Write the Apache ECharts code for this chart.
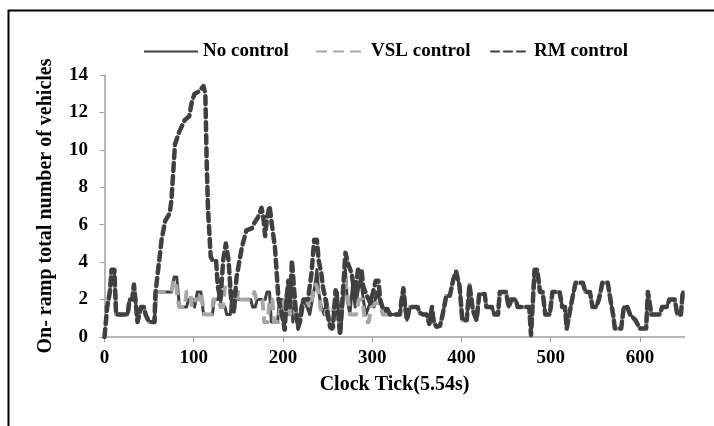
<!DOCTYPE html>
<html>
<head>
<meta charset="utf-8">
<script src="https://cdn.jsdelivr.net/npm/echarts@6/dist/echarts.min.js"></script>
<style>
  html, body { margin: 0; padding: 0; background: #fff; }
  #chart { width: 714px; height: 426px; }
</style>
</head>
<body>
<div id="chart"></div>
<script>
// [clock tick, vehicles]
const headPts = [
  [0, 1.6], [3, 1.6], [6, 2.4], [8, 3.6], [11, 3.6], [13, 1.2], [26, 1.2], [28, 2.0], [31, 2.0],
  [33, 2.8], [35, 2.8], [37, 0.8], [39, 0.8], [41, 1.6], [44, 1.6], [46, 1.2], [48, 1.2],
  [50, 0.8], [56, 0.8]
]

const noControlMid = [
  [58, 2.4], [75, 2.4], [78, 3.2], [81, 3.2], [84, 1.6], [92, 1.6], [94, 2.0], [99, 2.0],
  [101, 1.6], [104, 2.4], [108, 2.4], [111, 1.2], [121, 1.2], [123, 2.0], [127, 2.0], [129, 2.4],
  [131, 1.6], [135, 1.6], [137, 1.2], [141, 1.2], [143, 2.4], [148, 2.4], [150, 2.0], [164, 2.0],
  [166, 1.6], [169, 1.6], [171, 2.0], [180, 2.0], [182, 2.4], [185, 2.4], [187, 0.8], [194, 0.8],
  [196, 2.0], [199, 2.0], [201, 0.4], [204, 2.4], [206, 1.2], [209, 3.2], [211, 0.8], [214, 1.6],
  [217, 0.4], [220, 1.6], [223, 2.0], [227, 1.6], [230, 1.2], [233, 2.0], [236, 2.8], [238, 3.6],
  [240, 2.4], [243, 1.6], [246, 1.2], [249, 2.0], [252, 0.8], [255, 0.4], [258, 1.6], [261, 2.4],
  [263, 0.8], [265, 0.4], [268, 2.4], [270, 3.6], [272, 2.0], [275, 1.2], [278, 2.8], [281, 1.6],
  [284, 2.4], [287, 3.2], [290, 2.0], [293, 1.2], [296, 1.6], [299, 2.0], [302, 1.6], [305, 2.4],
  [308, 2.0], [312, 1.6], [316, 1.2]
]

const vslMid = [
  [58, 2.4], [75, 2.4], [77, 3.0], [80, 3.0], [82, 2.0], [84, 1.6], [90, 1.6], [92, 2.4], [96, 2.4],
  [98, 1.6], [100, 1.6], [102, 2.0], [106, 2.0], [108, 2.4], [110, 2.4], [112, 1.2], [120, 1.2],
  [122, 2.0], [128, 2.0], [130, 1.6], [133, 1.6], [135, 2.8], [140, 2.8], [142, 2.0], [148, 2.0],
  [150, 2.4], [153, 2.0], [165, 2.0], [168, 2.4], [170, 2.0], [177, 2.0], [179, 0.8], [183, 0.8],
  [185, 2.0], [188, 2.0], [190, 0.8], [195, 0.8], [197, 1.6], [200, 2.0], [203, 1.2], [206, 2.4],
  [208, 1.2], [211, 2.0], [214, 1.2], [218, 0.8], [222, 1.6], [226, 2.0], [230, 1.6], [234, 2.4],
  [237, 2.8], [240, 2.4], [243, 1.2], [247, 1.2], [250, 1.6], [253, 0.8], [257, 1.6], [260, 1.2],
  [263, 0.8], [266, 1.6], [269, 3.2], [272, 2.4], [275, 1.2], [282, 1.2], [285, 2.0], [289, 2.0],
  [292, 0.8], [296, 0.8], [299, 1.6], [303, 1.8], [308, 1.8], [312, 1.2]
]

const rmHead = [[0, 0]]

const rmMid = [
  [57, 2.3], [64, 5.2], [68, 6.2], [73, 6.6], [75, 7.3], [79, 10.3], [84, 11.0], [90, 11.6],
  [95, 11.8], [98, 12.6], [101, 13.0], [105, 13.1], [111, 13.4], [113, 13.0], [114.5, 9.4],
  [116, 6.8], [119, 4.3], [121, 4.1], [125, 4.1], [127, 2.7], [130, 2.0], [133, 4.1], [136, 5.0],
  [139, 4.1], [142, 2.0], [145, 1.3], [148, 3.2], [154, 4.8], [159, 5.7], [165, 5.8], [168, 6.1],
  [172, 6.4], [176, 6.9], [178, 6.4], [180, 5.4], [182, 6.3], [185, 7.0], [187, 6.2], [191, 4.8],
  [193, 3.4], [195, 2.0], [198, 1.4], [202, 0.4], [204, 2.0], [206, 3.0], [208, 1.6], [210, 4.1],
  [212, 4.1], [214, 1.6], [217, 0.5], [219, 0.8], [223, 2.0], [228, 2.0], [232, 3.4], [235, 5.2],
  [238, 5.2], [240, 4.1], [243, 3.4], [245, 2.6], [247, 2.2], [250, 1.2], [253, 0.5], [256, 0.5],
  [259, 2.5], [262, 1.2], [264, 0.1], [266, 0.2], [268, 3.0], [270, 4.5], [273, 3.9], [275, 4.0],
  [277, 3.4], [279, 2.7], [281, 2.2], [284, 3.6], [288, 3.6], [290, 2.7], [294, 2.2], [298, 1.8],
  [301, 2.4], [304, 3.0], [307, 3.0], [309, 2.0], [312, 1.5], [317, 1.5]
]

const tailPts = [
  [320, 1.2], [331, 1.2], [333, 2.0], [335, 2.6], [337, 1.6], [339, 0.9], [342, 1.6], [351, 1.6],
  [353, 1.3], [357, 1.2], [361, 1.2], [364, 0.7], [367, 1.6], [369, 0.8], [372, 0.55], [376, 0.6],
  [379, 1.2], [383, 2.2], [387, 2.2], [391, 3.1], [394, 3.5], [396, 3.4], [398, 2.7], [401, 0.9],
  [406, 0.9], [409, 2.8], [411, 2.8], [413, 1.4], [417, 0.9], [420, 2.3], [426, 2.3], [428, 1.6],
  [434, 1.6], [437, 1.2], [441, 1.2], [443, 2.4], [450, 2.4], [453, 1.6], [456, 2.0], [461, 2.0],
  [463, 1.6], [476, 1.6], [478, 0.1], [480, 0.1], [482, 3.6], [485, 3.6], [488, 2.4], [491, 2.4],
  [494, 1.2], [499, 1.2], [502, 2.4], [510, 2.4], [513, 1.6], [516, 1.6], [518, 0.45], [520, 0.45],
  [524, 2.0], [528, 2.9], [536, 2.9], [539, 2.4], [544, 2.4], [547, 1.6], [551, 1.6], [554, 2.0],
  [558, 2.9], [564, 2.9], [567, 2.0], [570, 1.2], [572, 0.45], [579, 0.45], [582, 1.6], [586, 1.6],
  [589, 1.2], [595, 0.9], [600, 0.45], [607, 0.45], [609, 2.4], [611, 2.4], [613, 1.2], [622, 1.2],
  [625, 1.6], [630, 1.6], [633, 2.0], [639, 2.0], [642, 1.2], [646, 1.2], [648, 2.4], [650, 2.4]
]

const xTicks = [0, 100, 200, 300, 400, 500, 600]
const seriesNames = ['No control', 'VSL control', 'RM control']

const noControl = headPts.concat(noControlMid, tailPts)
const vslControl = headPts.concat(vslMid, tailPts)
const rmControl = rmHead.concat(headPts.slice(1), rmMid, tailPts)

const FONT = '"Liberation Serif", "Times New Roman", serif'
const DARK = '#404040'
const LIGHT = '#a6a6a6'
const AXIS = '#a0a0a0'

const chart = echarts.init(document.getElementById('chart'))

function legendAt(name, left, width) {
  return {
    data: [name],
    left: left,
    top: 37,
    itemWidth: width,
    itemHeight: 20,
    itemStyle: { opacity: 0 },
    textStyle: { fontFamily: FONT, fontWeight: 'bold', fontSize: 19, color: '#000' }
  }
}

const option = {
  animation: false,
  backgroundColor: '#fff',
  legend: [
    legendAt(seriesNames[0], 138, 54),
    legendAt(seriesNames[1], 310, 50),
    legendAt(seriesNames[2], 485, 38)
  ],
  grid: { left: 104.5, right: 29.5, top: 75, bottom: 89 },
  xAxis: {
    type: 'value',
    min: 0,
    max: 650,
    name: 'Clock Tick(5.54s)',
    nameLocation: 'middle',
    nameGap: 38,
    nameTextStyle: { fontFamily: FONT, fontWeight: 'bold', fontSize: 20, color: '#000' },
    axisLine: { lineStyle: { color: AXIS, width: 1.5 } },
    axisTick: { show: true, length: 5, customValues: xTicks, lineStyle: { color: AXIS } },
    axisLabel: {
      customValues: xTicks,
      margin: 12,
      fontFamily: FONT, fontWeight: 'bold', fontSize: 19, color: '#000'
    },
    splitLine: { show: false }
  },
  yAxis: {
    type: 'value',
    min: 0,
    max: 14,
    interval: 2,
    offset: 4.5,
    name: 'On- ramp total number of vehicles',
    nameLocation: 'middle',
    nameGap: 44,
    nameTextStyle: { fontFamily: FONT, fontWeight: 'bold', fontSize: 20, color: '#000' },
    axisLine: { show: true, lineStyle: { color: AXIS, width: 1.5 } },
    axisTick: { show: true, length: 5, lineStyle: { color: AXIS } },
    axisLabel: { margin: 12, fontFamily: FONT, fontWeight: 'bold', fontSize: 19, color: '#000' },
    splitLine: { show: false }
  },
  series: [
    {
      name: seriesNames[0],
      type: 'line',
      data: noControl,
      symbol: 'none',
      lineStyle: { color: DARK, width: 3, type: 'solid', join: 'round' },
      itemStyle: { color: DARK }
    },
    {
      name: seriesNames[1],
      type: 'line',
      data: vslControl,
      symbol: 'none',
      lineStyle: { color: LIGHT, width: 4, type: [11, 6], join: 'round' },
      itemStyle: { color: LIGHT }
    },
    {
      name: seriesNames[2],
      type: 'line',
      data: rmControl,
      symbol: 'none',
      lineStyle: { color: DARK, width: 4.5, type: [8, 5], cap: 'round', join: 'round' },
      itemStyle: { color: DARK }
    }
  ],
  graphic: [
    {
      type: 'rect',
      left: 6,
      top: 8,
      shape: { width: 740, height: 440 },
      style: { fill: null, stroke: '#000', lineWidth: 2 },
      silent: true
    }
  ]
}

chart.setOption(option)
</script>
</body>
</html>
